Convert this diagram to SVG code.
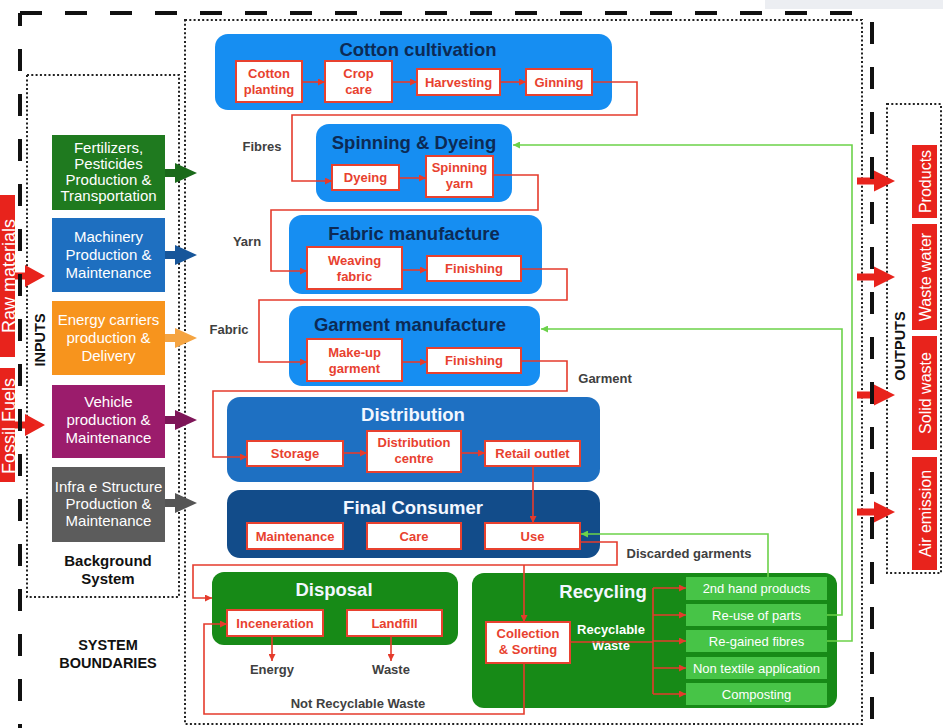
<svg xmlns="http://www.w3.org/2000/svg" width="943" height="728" viewBox="0 0 943 728">
  <defs>
    <style>
      text { font-family: "Liberation Sans", Arial, Helvetica, sans-serif; }
      .st { font-size: 18.5px; font-weight: bold; text-anchor: middle; }
      .dark { fill: #0c2a55; }
      .light { fill: #f2f7ff; }
      .sub rect { fill: #ffffff; stroke: #e8412f; stroke-width: 2; }
      .sub text { fill: #e8412f; font-size: 13px; font-weight: bold; text-anchor: middle; }
      .item rect { fill: #47c447; }
      .item text { fill: #ffffff; font-size: 13px; text-anchor: middle; }
      .inp text { fill: #ffffff; font-size: 15px; text-anchor: middle; }
      .lbl { fill: #404040; font-size: 13px; font-weight: bold; text-anchor: middle; }
      .blk { fill: #111111; font-size: 15px; font-weight: bold; text-anchor: middle; }
      .red { fill: none; stroke: #e53b2c; stroke-width: 1.6; marker-end: url(#ar); }
      .redp { fill: none; stroke: #e53b2c; stroke-width: 1.6; }
      .grn { fill: none; stroke: #6cd24a; stroke-width: 1.6; marker-end: url(#ag); }
      .dot { fill: none; stroke: #222222; stroke-width: 2; stroke-dasharray: 2 2.3; }
      .dash { fill: none; stroke: #111111; stroke-width: 4; stroke-dasharray: 22 23; }
      .tab text { fill: #ffffff; font-size: 16px; text-anchor: middle; }
    </style>
    <marker id="ar" viewBox="0 0 8 8" refX="8" refY="4" markerWidth="8" markerHeight="7" orient="auto" markerUnits="userSpaceOnUse">
      <path d="M0,0 L8,4 L0,8 z" fill="#e53b2c"/>
    </marker>
    <marker id="ag" viewBox="0 0 8 8" refX="8" refY="4" markerWidth="8" markerHeight="7" orient="auto" markerUnits="userSpaceOnUse">
      <path d="M0,0 L8,4 L0,8 z" fill="#6cd24a"/>
    </marker>
    <!-- block arrow used for background-system inputs -->
    <path id="inArrow" d="M0,-4 H10 V-10 L32,0 L10,10 V4 H0 z"/>
    <!-- block arrow used for system outputs -->
    <path id="outArrow" d="M0,-3.5 H17 V-10.5 L38,0 L17,10.5 V3.5 H0 z"/>
  </defs>

  <rect width="943" height="728" fill="#ffffff"/>
  <rect x="765" y="0" width="178" height="9" fill="#eceef2"/>

  <!-- dotted boundaries -->
  <rect class="dot" x="27" y="75" width="152" height="522"/>
  <rect class="dot" x="185" y="20" width="677" height="704"/>
  <rect class="dot" x="887" y="104" width="54" height="469"/>

  <!-- raw inputs (left) -->
  <g id="raw-materials" class="tab">
    <rect x="-10" y="195" width="25" height="162" fill="#e8231c"/>
    <text transform="translate(14.5,276) rotate(-90)" style="font-size:18px">Raw materials</text>
  </g>
  <g id="fossil-fuels" class="tab">
    <rect x="-10" y="368" width="25" height="114" fill="#e8231c"/>
    <text transform="translate(14.5,426) rotate(-90)" style="font-size:18px">Fossil Fuels</text>
  </g>
  <path d="M15,272.5 H25 V265 L45,276 L25,287 V279.5 H15 z" fill="#e8231c"/>
  <path d="M15,421.5 H25 V414 L45,425 L25,436 V428.5 H15 z" fill="#e8231c"/>

  <text class="blk" transform="translate(45,340) rotate(-90)" style="font-size:14.5px">INPUTS</text>

  <!-- background system inputs -->
  <g id="fertilizers" class="inp">
    <rect x="52" y="135" width="113" height="75" fill="#1f7a1f"/>
    <text x="108.5" y="153">Fertilizers,</text>
    <text x="108.5" y="169">Pesticides</text>
    <text x="108.5" y="185">Production &amp;</text>
    <text x="108.5" y="201">Transportation</text>
  </g>
  <g id="machinery" class="inp">
    <rect x="52" y="218" width="113" height="74" fill="#1e6fc0"/>
    <text x="108.5" y="242">Machinery</text>
    <text x="108.5" y="260">Production &amp;</text>
    <text x="108.5" y="278">Maintenance</text>
  </g>
  <g id="energy-carriers" class="inp">
    <rect x="52" y="301" width="113" height="74" fill="#f7941d"/>
    <text x="108.5" y="325">Energy carriers</text>
    <text x="108.5" y="343">production &amp;</text>
    <text x="108.5" y="361">Delivery</text>
  </g>
  <g id="vehicle" class="inp">
    <rect x="52" y="385" width="113" height="73" fill="#9b1c6c"/>
    <text x="108.5" y="407">Vehicle</text>
    <text x="108.5" y="425">production &amp;</text>
    <text x="108.5" y="443">Maintenance</text>
  </g>
  <g id="infrastructure" class="inp">
    <rect x="52" y="467" width="113" height="75" fill="#5c5c5c"/>
    <text x="108.5" y="492">Infra e Structure</text>
    <text x="108.5" y="509">Production &amp;</text>
    <text x="108.5" y="526">Maintenance</text>
  </g>
  <g id="input-arrows">
    <use href="#inArrow" x="165" y="173" fill="#1a6a1a"/>
    <use href="#inArrow" x="165" y="255" fill="#17569a"/>
    <use href="#inArrow" x="165" y="338" fill="#f5a441"/>
    <use href="#inArrow" x="165" y="420" fill="#7e1658"/>
    <use href="#inArrow" x="165" y="503" fill="#555555"/>
  </g>

  <text class="blk" x="108" y="566">Background</text>
  <text class="blk" x="108" y="584">System</text>
  <text class="blk" x="108" y="650" style="font-size:14.5px">SYSTEM</text>
  <text class="blk" x="108" y="668" style="font-size:14.5px">BOUNDARIES</text>

  <!-- life-cycle stages -->
  <g id="cotton-cultivation">
    <rect x="215" y="34" width="397" height="76" rx="13" fill="#168ef2"/>
    <text class="st dark" x="418" y="56">Cotton cultivation</text>
    <g id="cotton-planting" class="sub"><rect x="236" y="61" width="66" height="41"/><text x="269" y="78">Cotton</text><text x="269" y="94">planting</text></g>
    <g id="crop-care" class="sub"><rect x="325" y="61" width="67" height="41"/><text x="358.5" y="78">Crop</text><text x="358.5" y="94">care</text></g>
    <g id="harvesting" class="sub"><rect x="417" y="69" width="83" height="26"/><text x="458.5" y="86.5">Harvesting</text></g>
    <g id="ginning" class="sub"><rect x="526" y="69" width="66" height="26"/><text x="559" y="86.5">Ginning</text></g>
  </g>

  <g id="spinning-dyeing">
    <rect x="316" y="124" width="196" height="78" rx="13" fill="#168ef2"/>
    <text class="st dark" x="414" y="149">Spinning &amp; Dyeing</text>
    <g id="dyeing" class="sub"><rect x="332" y="165" width="67" height="25"/><text x="365.5" y="182">Dyeing</text></g>
    <g id="spinning-yarn" class="sub"><rect x="426" y="156" width="67" height="41"/><text x="459.5" y="172">Spinning</text><text x="459.5" y="188">yarn</text></g>
  </g>

  <g id="fabric-manufacture">
    <rect x="289" y="215" width="253" height="79" rx="13" fill="#168ef2"/>
    <text class="st dark" x="414" y="240">Fabric manufacture</text>
    <g id="weaving-fabric" class="sub"><rect x="307" y="247" width="95" height="42"/><text x="354.5" y="265">Weaving</text><text x="354.5" y="281">fabric</text></g>
    <g id="fabric-finishing" class="sub"><rect x="427" y="256" width="94" height="25"/><text x="474" y="273">Finishing</text></g>
  </g>

  <g id="garment-manufacture">
    <rect x="289" y="306" width="251" height="80" rx="13" fill="#168ef2"/>
    <text class="st dark" x="410" y="331">Garment manufacture</text>
    <g id="make-up-garment" class="sub"><rect x="307" y="339" width="95" height="42"/><text x="354.5" y="357">Make-up</text><text x="354.5" y="373">garment</text></g>
    <g id="garment-finishing" class="sub"><rect x="427" y="348" width="94" height="25"/><text x="474" y="365">Finishing</text></g>
  </g>

  <g id="distribution">
    <rect x="227" y="397" width="373" height="85" rx="13" fill="#1e70c2"/>
    <text class="st light" x="413" y="421">Distribution</text>
    <g id="storage" class="sub"><rect x="247" y="441" width="96" height="25"/><text x="295" y="458">Storage</text></g>
    <g id="distribution-centre" class="sub"><rect x="367" y="431" width="94" height="41"/><text x="414" y="447">Distribution</text><text x="414" y="463">centre</text></g>
    <g id="retail-outlet" class="sub"><rect x="485" y="441" width="95" height="25"/><text x="532.5" y="458">Retail outlet</text></g>
  </g>

  <g id="final-consumer">
    <rect x="227" y="490" width="373" height="68" rx="13" fill="#124c8a"/>
    <text class="st light" x="413" y="514">Final Consumer</text>
    <g id="maintenance" class="sub"><rect x="247" y="523" width="96" height="26"/><text x="295" y="540.5">Maintenance</text></g>
    <g id="care" class="sub"><rect x="367" y="523" width="94" height="26"/><text x="414" y="540.5">Care</text></g>
    <g id="use" class="sub"><rect x="485" y="523" width="95" height="26"/><text x="532.5" y="540.5">Use</text></g>
  </g>

  <g id="disposal">
    <rect x="212" y="572" width="246" height="73" rx="12" fill="#178a17"/>
    <text class="st light" x="334" y="596">Disposal</text>
    <g id="inceneration" class="sub"><rect x="227" y="610" width="96" height="26"/><text x="275" y="627.5">Inceneration</text></g>
    <g id="landfill" class="sub"><rect x="347" y="610" width="95" height="26"/><text x="394.5" y="627.5">Landfill</text></g>
  </g>

  <g id="recycling">
    <rect x="472" y="573" width="365" height="135" rx="12" fill="#178a17"/>
    <text class="st light" x="603" y="598">Recycling</text>
    <g id="collection-sorting" class="sub"><rect x="486" y="622" width="84" height="41"/><text x="528" y="638">Collection</text><text x="528" y="654">&amp; Sorting</text></g>
    <text x="611" y="634" style="fill:#ffffff;font-size:13px;font-weight:bold;text-anchor:middle">Recyclable</text>
    <text x="611" y="650" style="fill:#ffffff;font-size:13px;font-weight:bold;text-anchor:middle">Waste</text>
    <g id="second-hand" class="item"><rect x="686" y="577" width="141" height="23"/><text x="756.5" y="593">2nd hand products</text></g>
    <g id="re-use-parts" class="item"><rect x="686" y="604" width="141" height="22"/><text x="756.5" y="619.5">Re-use of parts</text></g>
    <g id="re-gained-fibres" class="item"><rect x="686" y="630" width="141" height="22"/><text x="756.5" y="645.5">Re-gained fibres</text></g>
    <g id="non-textile" class="item"><rect x="686" y="657" width="141" height="22"/><text x="756.5" y="672.5">Non textile application</text></g>
    <g id="composting" class="item"><rect x="686" y="683" width="141" height="22"/><text x="756.5" y="698.5">Composting</text></g>
  </g>

  <!-- flow labels -->
  <text class="lbl" x="262" y="151">Fibres</text>
  <text class="lbl" x="247" y="246">Yarn</text>
  <text class="lbl" x="229" y="334">Fabric</text>
  <text class="lbl" x="605" y="383">Garment</text>
  <text class="lbl" x="689" y="558">Discarded garments</text>
  <text class="lbl" x="272" y="674">Energy</text>
  <text class="lbl" x="391" y="674">Waste</text>
  <text class="lbl" x="358" y="708">Not Recyclable Waste</text>

  <!-- connectors -->
  <g id="connectors">
    <path class="red" d="M302,82 H325"/>
    <path class="red" d="M392,82 H417"/>
    <path class="red" d="M500,82 H526"/>
    <path class="red" d="M592,82 H637 V115 H292 V181 H332"/>
    <path class="red" d="M399,178 H426"/>
    <path class="red" d="M493,175 H538 V210 H271 V271 H307"/>
    <path class="red" d="M402,270 H427"/>
    <path class="red" d="M521,269 H567 V300 H259 V362 H307"/>
    <path class="red" d="M402,362 H427"/>
    <path class="red" d="M521,361 H567 V391 H213 V457 H247"/>
    <path class="red" d="M343,453 H367"/>
    <path class="red" d="M461,453 H485"/>
    <path class="red" d="M533,466 V523"/>
    <path class="red" d="M580,542 H617 V565 H193 V598 H212"/>
    <path class="red" d="M524,565 V622"/>
    <path class="red" d="M524,663 V714 H204 V624 H227"/>
    <path class="red" d="M272,636 V661"/>
    <path class="red" d="M391,636 V661"/>
    <path class="redp" d="M570,642 H653 M653,588 V694"/>
    <path class="red" d="M653,588 H686"/>
    <path class="red" d="M653,615 H686"/>
    <path class="red" d="M653,641 H686"/>
    <path class="red" d="M653,668 H686"/>
    <path class="red" d="M653,694 H686"/>
    <path class="grn" d="M827,641 H852 V145 H513"/>
    <path class="grn" d="M827,615 H842 V329 H541"/>
    <path class="grn" d="M768,577 V534 H581"/>
  </g>

  <!-- outputs -->
  <g id="output-arrows" fill="#e8231c">
    <use href="#outArrow" x="857" y="181"/>
    <use href="#outArrow" x="857" y="277"/>
    <use href="#outArrow" x="857" y="395"/>
    <use href="#outArrow" x="857" y="512"/>
  </g>
  <text class="blk" transform="translate(905,346) rotate(-90)" style="font-size:14.5px">OUTPUTS</text>
  <g id="products" class="tab"><rect x="912" y="145" width="25" height="73" fill="#e8231c"/><text transform="translate(930.5,181.5) rotate(-90)">Products</text></g>
  <g id="waste-water" class="tab"><rect x="912" y="224" width="25" height="106" fill="#e8231c"/><text transform="translate(930.5,277) rotate(-90)">Waste water</text></g>
  <g id="solid-waste" class="tab"><rect x="912" y="336" width="25" height="114" fill="#e8231c"/><text transform="translate(930.5,393) rotate(-90)">Solid waste</text></g>
  <g id="air-emission" class="tab"><rect x="912" y="457" width="25" height="113" fill="#e8231c"/><text transform="translate(930.5,513.5) rotate(-90)">Air emission</text></g>

  <!-- system boundary (dashed) -->
  <path class="dash" d="M20,13 H862"/>
  <path class="dash" d="M20,13 V728" style="stroke-dashoffset:9"/>
  <path class="dash" d="M872,22 V728"/>
</svg>
